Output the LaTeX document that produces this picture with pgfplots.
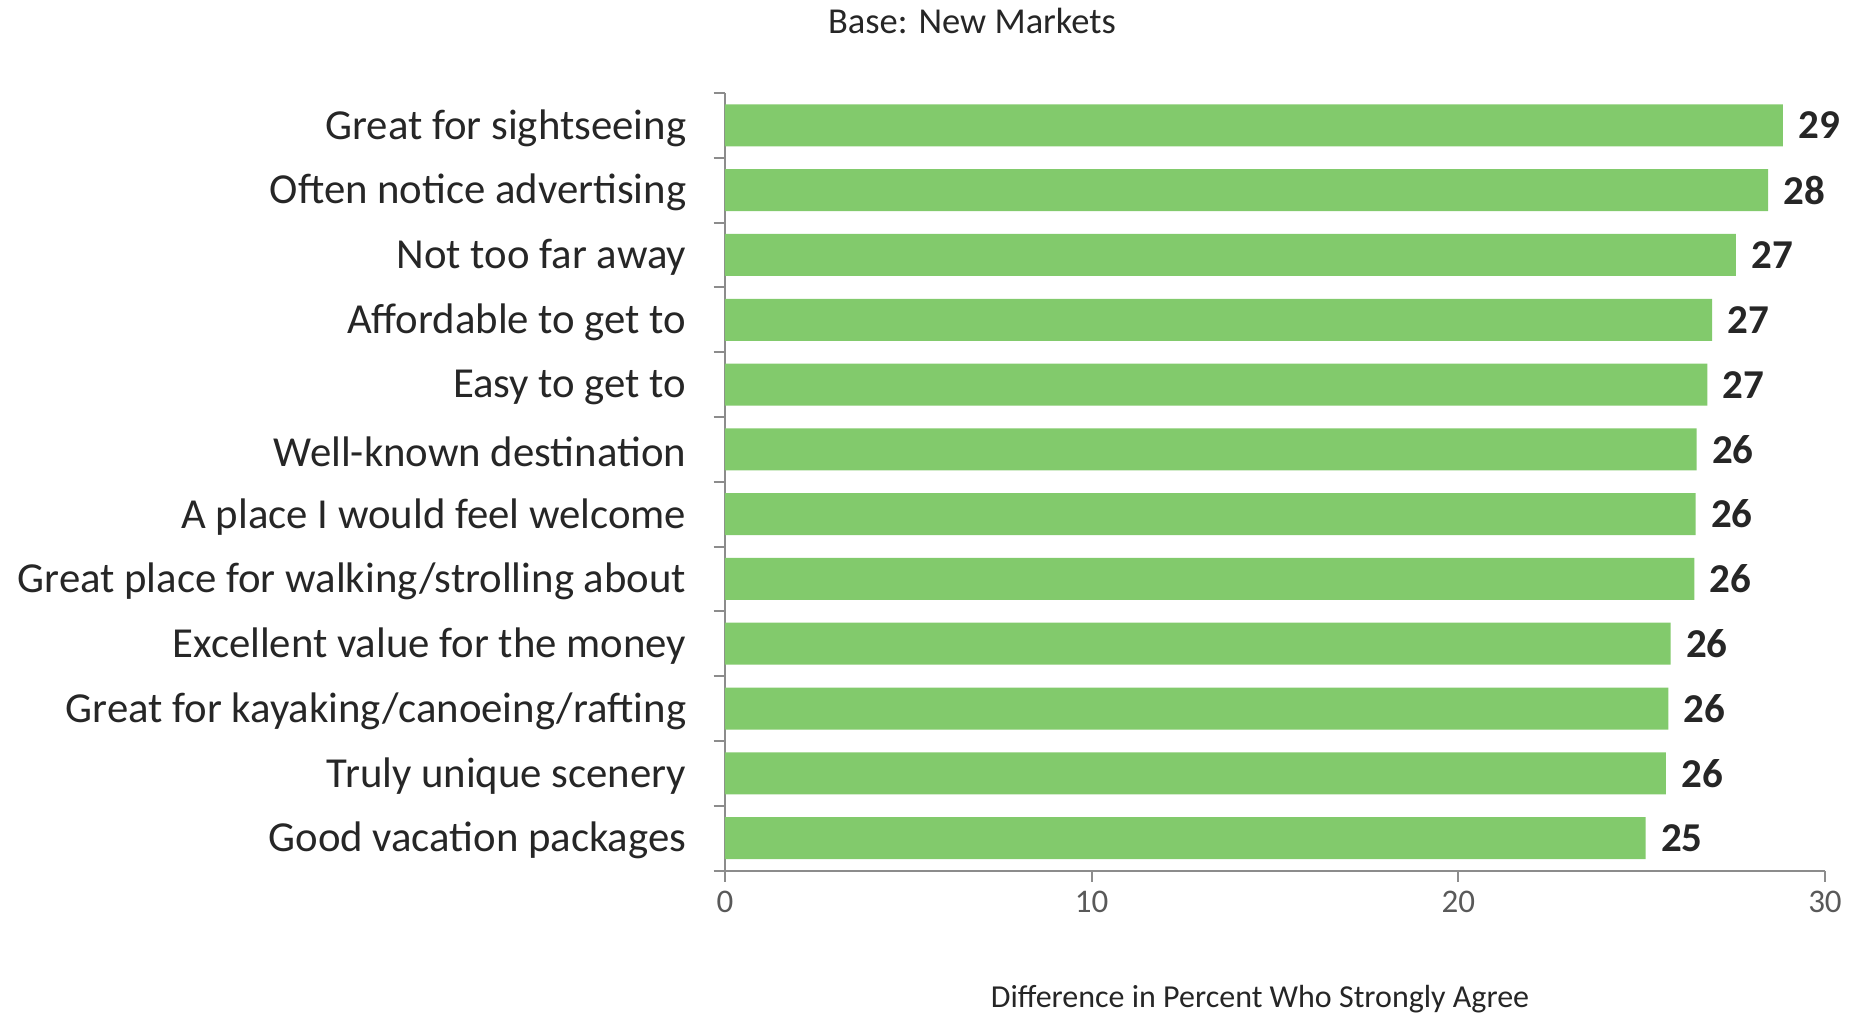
\documentclass[border=0pt]{standalone}
\usepackage{pgfplots}
\pgfplotsset{compat=1.18}
\usepackage{fontspec}
\setmainfont{Carlito}
\definecolor{bargreen}{HTML}{82CA6C}
\definecolor{axisgray}{HTML}{8C8C8C}
\definecolor{txt}{HTML}{262626}
\definecolor{ticktxt}{HTML}{595959}
\begin{document}
\begin{tikzpicture}
\begin{axis}[
  scale only axis,
  width=440pt, height=311pt,
  at={(0,0)}, anchor=south west,
  xbar, bar width=16.8pt,
  xmin=0, xmax=30,
  ymin=-0.5, ymax=11.5,
  y dir=reverse,
  axis x line*=bottom, axis y line*=left,
  axis line style={axisgray, line width=0.8pt},
  xtick={0,10,20,30},
  tick style={axisgray, line width=0.8pt},
  x tick label style={font=\fontsize{13.2}{15}\selectfont, text=ticktxt},
  /pgf/number format/assume math mode=true,
  tick align=outside,
  major tick length=4.5pt,
  ytick={-0.5,0.5,...,11.5},
  yticklabels={},
  extra y ticks={0,...,11},
  extra y tick labels={Great for sightseeing, Often notice advertising, Not too far away, Affordable to get to, Easy to get to, Well-known destination, A place I would feel welcome, Great place for walking/strolling about, Excellent value for the money, Great for kayaking/canoeing/rafting, Truly unique scenery, Good vacation packages},
  extra y tick style={major tick length=0pt, y tick label style={font=\fontsize{17.1}{19}\selectfont, text=txt, xshift=-12pt, yshift=-1pt}},
  xlabel={Difference in Percent Who Strongly Agree},
  xlabel style={font=\fontsize{12.8}{14}\selectfont, text=txt, at={(axis description cs:0.5,0)}, anchor=center, yshift=-51.6pt, xshift=-6pt},
  nodes near coords,
  point meta=explicit symbolic,
  nodes near coords style={font=\bfseries\fontsize{16.4}{18}\selectfont, text=txt, anchor=west, inner sep=0pt, xshift=6pt},
  clip=false,
]
\addplot[fill=bargreen, draw=none] coordinates {
  (28.85,0) [29]
  (28.45,1) [28]
  (27.57,2) [27]
  (26.92,3) [27]
  (26.79,4) [27]
  (26.50,5) [26]
  (26.47,6) [26]
  (26.44,7) [26]
  (25.79,8) [26]
  (25.73,9) [26]
  (25.66,10) [26]
  (25.11,11) [25]
};
\node[font=\fontsize{14.6}{16}\selectfont, text=txt] at (axis description cs:0.2245,1.0926) {Base: New Markets};
\end{axis}
\pgfresetboundingbox
\useasboundingbox (-290pt,-58pt) rectangle (450pt,348.2pt);
\end{tikzpicture}
\end{document}
